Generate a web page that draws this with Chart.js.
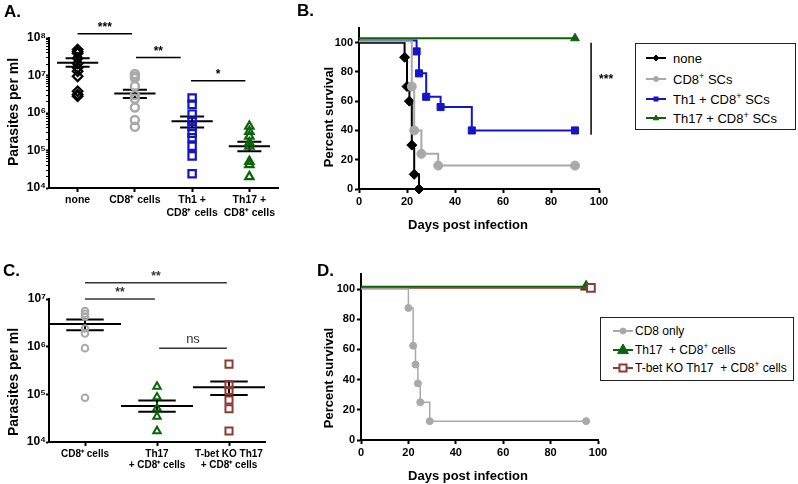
<!DOCTYPE html>
<html><head><meta charset="utf-8">
<script src="https://cdn.jsdelivr.net/npm/chart.js@4"></script>
<style>
body{margin:0;background:#fff;width:798px;height:484px;position:relative;overflow:hidden;font-family:"Liberation Sans",Arial,Helvetica,sans-serif;color:#000}
canvas{position:absolute}
.letter{position:absolute;font-weight:bold;font-size:17px;line-height:1;white-space:nowrap}
.ytitle{position:absolute;font-weight:bold;font-size:13px;line-height:1;white-space:nowrap;transform:translate(-50%,-50%) rotate(-90deg)}
.xtitle{position:absolute;font-weight:bold;font-size:13px;line-height:1;white-space:nowrap;transform:translate(-50%,-50%)}
.legend{position:absolute;box-sizing:border-box;border:1.5px solid #222;background:#fff}
.legend .t{position:absolute;white-space:pre;transform:translateY(-50%);line-height:1}
.legend sup{font-size:0.7em;line-height:0;vertical-align:0.55em}
</style></head><body>
<canvas id="cA" width="290" height="240" style="left:0;top:0"></canvas>
<canvas id="cB" width="330" height="240" style="left:290px;top:0"></canvas>
<canvas id="cC" width="290" height="244" style="left:0;top:240px"></canvas>
<canvas id="cD" width="320" height="244" style="left:300px;top:240px"></canvas>

<div class="letter" style="left:4px;top:3px">A.</div>
<div class="letter" style="left:297px;top:2px">B.</div>
<div class="letter" style="left:3px;top:262px">C.</div>
<div class="letter" style="left:317px;top:262px">D.</div>

<div class="ytitle" style="left:13px;top:112px;font-size:14px">Parasites per ml</div>
<div class="ytitle" style="left:328px;top:117px">Percent survival</div>
<div class="xtitle" style="left:468px;top:224px">Days post infection</div>
<div class="ytitle" style="left:13px;top:382px;font-size:14px">Parasites per ml</div>
<div class="ytitle" style="left:328px;top:378px">Percent survival</div>
<div class="xtitle" style="left:468px;top:475px">Days post infection</div>

<div id="legB" class="legend" style="left:635px;top:43px;width:161px;height:87px;font-size:13px"></div>
<div id="legD" class="legend" style="left:600px;top:317px;width:194px;height:64px;font-size:12px"></div>

<script>
// ---------------- Panel A data ----------------
const categoriesA = ['none', 'CD8⁺ cells', 'Th1 +\nCD8⁺ cells', 'Th17 +\nCD8⁺ cells'];
const noneA  = [4.9e7, 4.3e7, 3.9e7, 2.9e7, 2.1e7, 1.6e7, 1.3e7, 9.5e6, 3.8e6, 3.1e6, 2.8e6];
const cd8A   = [1.1e7, 9.5e6, 8.5e6, 5.2e6, 3.0e6, 2.4e6, 1.4e6, 6.5e5, 4.3e5];
const th1A   = [2.5e6, 1.7e6, 9.3e5, 6.0e5, 4.4e5, 2.9e5, 2.2e5, 1.3e5, 7.2e4, 2.4e4];
const th17A  = [4.4e5, 3.2e5, 2.4e5, 1.6e5, 1.3e5, 5.1e4, 4.2e4, 2.0e4];
const meanA  = [2.2e7, 3.3e6, 6.0e5, 1.3e5];
const semHiA = [2.9e7, 4.2e6, 8.1e5, 1.7e5];
const semLoA = [1.7e7, 2.5e6, 4.1e5, 9.5e4];
const decadesA = [1e4, 1e5, 1e6, 1e7, 1e8];
const sigFromA  = [1, 2.02, 2.98];
const sigToA    = [1.95, 2.8, 3.93];
const sigLevelA = [1.3e8, 3.0e7, 7.2e6];
const sigTextA  = ['***', '**', '*'];

// ---------------- Panel B data ----------------
const legendB = ['none', 'CD8⁺ SCs', 'Th1 + CD8⁺ SCs', 'Th17 + CD8⁺ SCs'];
const daysNoneB = [0, 19, 20, 21, 22, 23, 25];
const survNoneB = [100, 90, 70, 60, 30, 10, 0];
const daysCd8B  = [0, 22, 23, 26, 33, 90];
const survCd8B  = [101, 70, 40, 24, 16, 16];
const daysTh1B  = [0, 24, 25, 28, 34, 47, 90];
const survTh1B  = [101.5, 94, 79, 63, 56, 40, 40];
const daysTh17B = [0, 90];
const survTh17B = [103, 103];
const survTicks = [0, 20, 40, 60, 80, 100];
const dayTicks  = [0, 20, 40, 60, 80, 100];

// ---------------- Panel C data ----------------
const categoriesC = ['CD8⁺ cells', 'Th17\n+ CD8⁺ cells', 'T-bet KO Th17\n+ CD8⁺ cells'];
const cd8C   = [5.6e6, 4.9e6, 4.3e6, 2.4e6, 1.9e6, 9.3e5, 8.5e4];
const th17C  = [1.45e5, 8.7e4, 5.1e4, 3.4e4, 1.7e4];
const tbetC  = [4.3e5, 1.6e5, 1.2e5, 7.6e4, 5.0e4, 1.7e4];
const meanC  = [3.0e6, 5.7e4, 1.4e5];
const semHiC = [3.7e6, 7.4e4, 1.85e5];
const semLoC = [2.2e6, 4.3e4, 9.7e4];
const decadesC = [1e4, 1e5, 1e6, 1e7];
const sigFromC  = [1, 1, 2.03];
const sigToC    = [2.97, 1.97, 2.97];
const sigLevelC = [2.2e7, 1.0e7, 9.3e5];
const sigTextC  = ['**', '**', 'ns'];

// ---------------- Panel D data ----------------
const legendD = ['CD8 only', 'Th17  + CD8⁺ cells', 'T-bet KO Th17  + CD8⁺ cells'];
const daysCd8D  = [0, 20, 22, 23, 24, 25, 29, 95];
const survCd8D  = [100, 87.5, 62.5, 50, 37.5, 25, 12.5, 12.5];
const daysTh17D = [0, 95];
const survTh17D = [101.5, 101.5];
const daysTbetD = [0, 97];
const survTbetD = [100.8, 100.8];

// ---------------- colours ----------------
const BLACK = '#000000', GREY = '#a9a9a9', BLUE = '#1414c8', GREEN = '#0b640b', BROWN = '#8e3a32';

Chart.defaults.font.family = '"Liberation Sans", Arial, Helvetica, sans-serif';
Chart.defaults.color = '#000';
Chart.defaults.animation = false;

const SUP = {'0':'⁰','1':'¹','2':'²','3':'³','4':'⁴','5':'⁵','6':'⁶','7':'⁷','8':'⁸','9':'⁹'};
const isDecade = v => Math.abs(Math.log10(v) - Math.round(Math.log10(v))) < 1e-9;
const pow10Label = v => '10' + String(Math.round(Math.log10(v))).split('').map(c => SUP[c]).join('');

function logTicks(decades, minors) {
  if (!minors) return decades.slice();
  const out = [];
  decades.forEach((d, i) => {
    out.push(d);
    if (i < decades.length - 1) for (let k = 2; k <= 9; k++) out.push(d * k);
  });
  return out;
}

function logAxis(decades, minors, width) {
  return {
    type: 'logarithmic', min: decades[0], max: decades[decades.length - 1],
    afterBuildTicks: s => { s.ticks = logTicks(decades, minors).map(v => ({value: v})); },
    afterFit: s => { s.width = width; },
    ticks: { autoSkip: false, padding: 0, color: '#000', font: {size: 12, weight: 'bold'},
      callback: v => isDecade(v) ? pow10Label(v) : '' },
    grid: { display: true, drawOnChartArea: false, drawTicks: true, tickLength: 3, tickColor: '#000',
      tickWidth: c => (c.tick && isDecade(c.tick.value)) ? 2 : 1 },
    border: { display: true, color: '#000', width: 2 }
  };
}

function catAxis(labels, height, size, lh, pad) {
  return {
    type: 'linear', min: 0.5, max: labels.length + 0.5,
    afterBuildTicks: s => { s.ticks = labels.map((_, i) => ({value: i + 1})); },
    afterFit: s => { s.height = height; },
    ticks: { autoSkip: false, maxRotation: 0, minRotation: 0, padding: pad, color: '#000',
      font: {size: size, weight: 'bold', lineHeight: lh},
      callback: v => { const l = labels[Math.round(v) - 1]; return l ? l.split('\n') : ''; } },
    grid: { display: true, drawOnChartArea: false, drawTicks: true, tickLength: 4, tickColor: '#000', tickWidth: 2 },
    border: { display: true, color: '#000', width: 2 }
  };
}

function linAxis(min, max, ticks, fit, isX) {
  const ax = {
    type: 'linear', min: min, max: max,
    afterBuildTicks: s => { s.ticks = ticks.map(v => ({value: v})); },
    ticks: { autoSkip: false, maxRotation: 0, padding: 2, color: '#000', font: {size: 11, weight: 'bold'} },
    grid: { display: true, drawOnChartArea: false, drawTicks: true, tickLength: 4, tickColor: '#000', tickWidth: 2 },
    border: { display: true, color: '#000', width: 2 }
  };
  if (isX) ax.afterFit = s => { s.height = fit; }; else ax.afterFit = s => { s.width = fit; };
  return ax;
}

function groupPoints(values, pos) { return values.map(v => ({x: pos, y: v})); }

function semSegments(means, hi, lo, hw, cw) {
  const d = [];
  means.forEach((m, i) => {
    const c = i + 1;
    d.push({x: c - hw, y: m}, {x: c + hw, y: m}, {x: c, y: null},
           {x: c - cw, y: hi[i]}, {x: c + cw, y: hi[i]}, {x: c, y: null},
           {x: c - cw, y: lo[i]}, {x: c + cw, y: lo[i]}, {x: c, y: null},
           {x: c, y: hi[i]}, {x: c, y: lo[i]}, {x: c, y: null});
  });
  return d;
}

function scatterDs(values, pos, style, color, r, bw) {
  return { type: 'scatter', data: groupPoints(values, pos), pointStyle: style, pointRadius: r,
    pointBorderColor: color, pointBackgroundColor: 'rgba(0,0,0,0)', pointBorderWidth: bw, showLine: false };
}

function semDs(means, hi, lo, hw, cw) {
  return { type: 'scatter', data: semSegments(means, hi, lo, hw, cw), showLine: true, spanGaps: false,
    borderColor: '#000', borderWidth: 2, pointRadius: 0, clip: false };
}

function kmDs(days, surv, color, style, r, fill, lw, bw) {
  return { type: 'line', data: days.map((d, i) => ({x: d, y: surv[i]})), stepped: 'before',
    borderColor: color, borderWidth: lw, fill: false, pointStyle: style,
    pointRadius: days.map((_, i) => i === 0 ? 0 : r), pointBackgroundColor: fill,
    pointBorderColor: color, pointBorderWidth: bw, clip: false };
}

// significance bar plugin
const sigPlugin = {
  id: 'sig',
  afterDatasetsDraw(chart, args, opts) {
    const {ctx} = chart; const xs = chart.scales.x, ys = chart.scales.y;
    ctx.save();
    (opts.bars || []).forEach(b => {
      ctx.strokeStyle = b.color || '#000'; ctx.lineWidth = 1.5; ctx.fillStyle = b.color || '#000';
      if (b.vertical) {
        const x = xs.getPixelForValue(b.at), y1 = ys.getPixelForValue(b.from), y2 = ys.getPixelForValue(b.to);
        ctx.beginPath(); ctx.moveTo(x, y1); ctx.lineTo(x, y2); ctx.stroke();
        ctx.font = 'bold 12px "Liberation Sans", Arial, sans-serif'; ctx.textAlign = 'left'; ctx.textBaseline = 'alphabetic';
        ctx.fillText(b.label, x + 8, (y1 + y2) / 2 - 6);
      } else {
        const x1 = xs.getPixelForValue(b.from), x2 = xs.getPixelForValue(b.to), y = ys.getPixelForValue(b.at);
        ctx.beginPath(); ctx.moveTo(x1, y); ctx.lineTo(x2, y); ctx.stroke();
        ctx.font = (b.label === 'ns' ? '13px' : 'bold 12px') + ' "Liberation Sans", Arial, sans-serif';
        ctx.textAlign = 'center'; ctx.textBaseline = 'alphabetic';
        ctx.fillText(b.label, (x1 + x2) / 2, y - (b.label === 'ns' ? 5 : 3));
      }
    });
    ctx.restore();
  }
};

const baseOpts = (padding, scales, bars) => ({
  responsive: false, animation: false, events: [],
  layout: { padding: padding },
  plugins: { legend: {display: false}, tooltip: {enabled: false}, sig: {bars: bars || []} },
  scales: scales
});

// ---------- Chart A ----------
new Chart(document.getElementById('cA'), {
  type: 'scatter',
  data: { datasets: [
    scatterDs(noneA, 1, 'rectRot', BLACK, 4.8, 2.2),
    scatterDs(cd8A, 2, 'circle', GREY, 4, 2.4),
    scatterDs(th1A, 3, 'rect', BLUE, 5.2, 2.2),
    scatterDs(th17A, 4, 'triangle', GREEN, 4.8, 2.2),
    semDs(meanA, semHiA, semLoA, 0.36, 0.21)
  ]},
  options: baseOpts({left: 0, top: 38, right: 12, bottom: 0}, {
    x: catAxis(categoriesA, 52, 10.5, 1.2, 2),
    y: logAxis(decadesA, true, 49)
  }, sigFromA.map((f, i) => ({from: f, to: sigToA[i], at: sigLevelA[i], label: sigTextA[i]}))),
  plugins: [sigPlugin]
});

// ---------- Chart B ----------
new Chart(document.getElementById('cB'), {
  type: 'line',
  data: { datasets: [
    kmDs(daysCd8B, survCd8B, GREY, 'circle', 4.5, GREY, 2, 1),
    kmDs(daysNoneB, survNoneB, BLACK, 'rectRot', 5, BLACK, 2, 1),
    kmDs(daysTh1B, survTh1B, BLUE, 'rect', 5, BLUE, 2, 1),
    kmDs(daysTh17B, survTh17B, GREEN, 'triangle', 5, GREEN, 2, 1)
  ]},
  options: baseOpts({left: 20, top: 28, right: 21, bottom: 0}, {
    x: linAxis(0, 100, dayTicks, 51, true),
    y: linAxis(0, 110, survTicks, 49, false)
  }, [{vertical: true, at: 96.7, from: 100, to: 37, label: '***'}]),
  plugins: [sigPlugin]
});

// ---------- Chart C ----------
new Chart(document.getElementById('cC'), {
  type: 'scatter',
  data: { datasets: [
    scatterDs(cd8C, 1, 'circle', GREY, 3.3, 2),
    scatterDs(th17C, 2, 'triangle', GREEN, 4.3, 2),
    scatterDs(tbetC, 3, 'rect', BROWN, 5, 2),
    semDs(meanC, semHiC, semLoC, 0.5, 0.26)
  ]},
  options: baseOpts({left: 0, top: 59, right: 25, bottom: 0}, {
    x: catAxis(categoriesC, 42, 10, 1.1, 3),
    y: logAxis(decadesC, false, 49)
  }, sigFromC.map((f, i) => ({from: f, to: sigToC[i], at: sigLevelC[i], label: sigTextC[i], color: '#333'}))),
  plugins: [sigPlugin]
});

// ---------- Chart D ----------
new Chart(document.getElementById('cD'), {
  type: 'line',
  data: { datasets: [
    kmDs(daysCd8D, survCd8D, GREY, 'circle', 3.5, GREY, 1.5, 1),
    kmDs(daysTbetD, survTbetD, BROWN, 'rect', 5.5, '#fff', 1.5, 2),
    kmDs(daysTh17D, survTh17D, GREEN, 'triangle', 6.5, GREEN, 2, 1)
  ]},
  options: baseOpts({left: 12, top: 34, right: 22, bottom: 0}, {
    x: linAxis(0, 100, dayTicks, 44, true),
    y: linAxis(0, 110, survTicks, 49, false)
  }),
  plugins: [sigPlugin]
});

// ---------- HTML legends ----------
function symbolSVG(shape, color, fill, r, lw) {
  const c = 10, cy = 7;
  let m = '';
  if (shape === 'rectRot') m = `<polygon points="${c-r},${cy} ${c},${cy-r} ${c+r},${cy} ${c},${cy+r}" fill="${fill}" stroke="${color}" stroke-width="${lw}"/>`;
  else if (shape === 'circle') m = `<circle cx="${c}" cy="${cy}" r="${r}" fill="${fill}" stroke="${color}" stroke-width="${lw}"/>`;
  else if (shape === 'rect') m = `<rect x="${c-r}" y="${cy-r}" width="${2*r}" height="${2*r}" fill="${fill}" stroke="${color}" stroke-width="${lw}"/>`;
  else if (shape === 'triangle') m = `<polygon points="${c},${cy-r} ${c+r*0.9},${cy+r*0.6} ${c-r*0.9},${cy+r*0.6}" fill="${fill}" stroke="${color}" stroke-width="${lw}"/>`;
  return `<svg width="20" height="14" style="position:absolute;left:0;top:0;overflow:visible"><line x1="0" y1="${cy}" x2="20" y2="${cy}" stroke="${color}" stroke-width="2"/>${m}</svg>`;
}
function buildLegend(el, labels, syms, rows, symX, textX) {
  el.innerHTML = labels.map((l, i) => {
    const s = syms[i];
    const txt = l.replace(/⁺/g, '<sup>+</sup>');
    return `<div style="position:absolute;left:${symX}px;top:${rows[i]-7}px;width:20px;height:14px">${symbolSVG(s[0], s[1], s[2], s[3], s[4])}</div>` +
           `<div class="t" style="left:${textX}px;top:${rows[i]}px">${txt}</div>`;
  }).join('');
}
buildLegend(document.getElementById('legB'), legendB,
  [['rectRot', BLACK, BLACK, 3, 1], ['circle', GREY, GREY, 2.5, 1], ['rect', BLUE, BLUE, 2, 1], ['triangle', GREEN, GREEN, 3, 1]],
  [13.5, 34.5, 54.5, 73.5], 10, 37);
buildLegend(document.getElementById('legD'), legendD,
  [['circle', GREY, GREY, 3, 1], ['triangle', GREEN, GREEN, 6, 1], ['rect', BROWN, '#fff', 3.5, 2]],
  [12.5, 31.5, 49.5], 12, 34);
</script>
</body></html>
